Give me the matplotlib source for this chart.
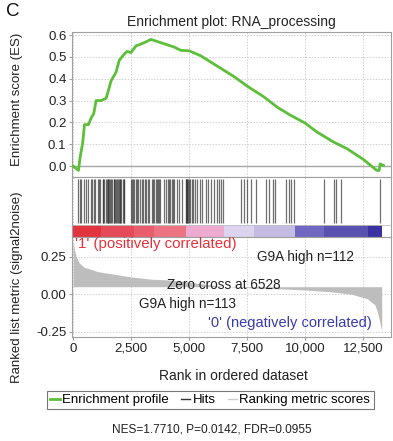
import matplotlib
matplotlib.use("Agg")
import matplotlib.pyplot as plt
from matplotlib.lines import Line2D

plt.rcParams['font.family'] = ['Liberation Sans', 'DejaVu Sans']

# ---------------- data ----------------
es_ranks = [0, 229, 300, 415, 487, 659, 773, 888, 988, 1203, 1418, 1530, 1632, 1847, 1990,
            2205, 2320, 2491, 2706, 3064, 3350, 3637, 3924, 4353, 4640, 4998, 5500, 6072,
            6931, 7504, 8220, 8792, 9365, 9981, 10511, 11227, 11800, 12516, 13089, 13189,
            13232, 13375]
es_values = [0.0, -0.02, 0.04, 0.11, 0.19, 0.19, 0.22, 0.24, 0.30, 0.30, 0.31, 0.35, 0.39,
             0.43, 0.485, 0.513, 0.525, 0.52, 0.55, 0.565, 0.58, 0.57, 0.56, 0.545, 0.53,
             0.528, 0.505, 0.467, 0.41, 0.366, 0.317, 0.27, 0.233, 0.198, 0.156, 0.11, 0.08,
             0.03, -0.02, -0.02, 0.01, 0.003]

hit_ranks = [229, 310, 344, 487, 560, 659, 773, 820, 888, 940, 1060, 1110, 1174, 1274, 1300,
             1350, 1418, 1450, 1489, 1520, 1561, 1600, 1632, 1680, 1747, 1780, 1800, 1847,
             1880, 1919, 1960, 2000, 2033, 2080, 2134, 2170, 2205, 2491, 2540, 2563, 2635,
             2706, 2760, 2807, 2893, 2950, 2993, 3093, 3150, 3208, 3279, 3380, 3420, 3494,
             3550, 3600, 3637, 3680, 3752, 3924, 3995, 4067, 4139, 4180, 4239, 4300, 4353,
             4468, 4568, 4711, 4855, 4880, 4897, 4920, 4955, 5000, 5041, 5141, 5180, 5241,
             5356, 5470, 5570, 5714, 5814, 5929, 6072, 6186, 6286, 6387, 6473, 7217, 7360,
             7475, 7647, 7862, 8291, 8434, 8621, 8692, 9193, 9308, 9394, 9537, 10797, 11227,
             11341, 11542, 13232]

metric_ranks = [0, 50, 130, 250, 470, 1070, 2500, 3350, 4080, 5000, 6528, 8000, 9070,
                10000, 11200, 12000, 12670, 13000, 13100, 13200, 13250, 13300]
metric_values = [0.37, 0.30, 0.25, 0.21, 0.18, 0.15, 0.115, 0.10, 0.095, 0.08, 0.05, 0.04,
                 0.035, 0.028, 0.015, 0.0, -0.03, -0.07, -0.11, -0.17, -0.21, -0.24]
metric_baseline = 0.05

band_edges = [0, 1203, 2635, 3494, 4855, 6501, 7790, 9580, 10797, 12730, 13303]
band_colors = ['#e2343f', '#e44a58', '#e85e6c', '#ec7482', '#eeaad0', '#dcd4ee',
               '#c4bce2', '#7068c0', '#5a52b0', '#3a32a2']

x_ticks = [0, 2500, 5000, 7500, 10000, 12500]
x_tick_labels = ['0', '2,500', '5,000', '7,500', '10,000', '12,500']
es_ticks = [0.0, 0.1, 0.2, 0.3, 0.4, 0.5, 0.6]
metric_ticks = [-0.25, 0.0, 0.25]

# ---------------- figure ----------------
W, H = 393, 441
fig = plt.figure(figsize=(W / 100, H / 100), dpi=100)

def ax_rect(left, top, right, bottom):
    return [left / W, 1 - bottom / H, (right - left) / W, (bottom - top) / H]

xlim = (-50, 13700)
spine_c = '#a0a0a0'
grid_kw = dict(color='#d0d0d0', linestyle=(0, (1.5, 1.5)), linewidth=0.7)

ax1 = fig.add_axes(ax_rect(72, 32, 391, 177))
ax2 = fig.add_axes(ax_rect(72, 177, 391, 237))
ax3 = fig.add_axes(ax_rect(72, 237, 391, 337))

for ax in (ax1, ax2, ax3):
    ax.set_xlim(*xlim)
    for s in ax.spines.values():
        s.set_color(spine_c)
        s.set_linewidth(0.8)
    ax.set_xticks(x_ticks)
    ax.tick_params(length=2, color=spine_c, labelsize=9.5, pad=2, labelcolor='#222222')
    ax.set_axisbelow(True)

# ES panel
ax1.set_ylim(-0.05, 0.614)
ax1.set_yticks(es_ticks)
ax1.set_yticklabels(['0.0', '0.1', '0.2', '0.3', '0.4', '0.5', '0.6'])
ax1.set_xticklabels([])
ax1.tick_params(axis='x', length=0)
ax1.grid(True, **grid_kw)
ax1.axhline(0, color='#a8a8a8', linewidth=1.0, zorder=1)
ax1.plot(es_ranks, es_values, color='#5cbf3a', linewidth=2.0, zorder=3)
ax1.set_title('Enrichment plot: RNA_processing', fontsize=10, pad=4, color='#222222')

# Hits panel
ax2.set_ylim(0, 1)
ax2.set_yticks([])
ax2.set_xticklabels([])
ax2.tick_params(axis='x', length=0)
ax2.grid(True, axis='x', **grid_kw)
ax2.vlines(hit_ranks, 0.233, 0.967, color='#303030', linewidth=0.9, alpha=0.7)
for i, c in enumerate(band_colors):
    ax2.axvspan(band_edges[i], band_edges[i + 1], ymin=0, ymax=0.2, color=c, linewidth=0)
ax2.axhline(0.2, color='#c0c0c0', linewidth=0.6)

# Metric panel
ax3.set_ylim(-0.285, 0.381)
ax3.set_yticks(metric_ticks)
ax3.set_yticklabels(['-0.25', '0.00', '0.25'])
ax3.set_xticklabels(x_tick_labels)
ax3.grid(True, **grid_kw)
ax3.fill_between(metric_ranks, metric_values, metric_baseline, color='#bdbdbd',
                 linewidth=0, zorder=2)
ax3.text(60, 0.335, "'1' (positively correlated)", color='#e8303a', fontsize=10.8,
         ha='left', va='center')
ax3.text(10009, 0.248, 'G9A high n=112', color='#222222', fontsize=9.8,
         ha='center', va='center')
ax3.text(6486, 0.058, 'Zero cross at 6528', color='#222222', fontsize=9.8,
         ha='center', va='center')
ax3.text(4940, -0.065, 'G9A high n=113', color='#222222', fontsize=9.8,
         ha='center', va='center')
ax3.text(12887, -0.19, "'0' (negatively correlated)", color='#3a3ab0', fontsize=10.5,
         ha='right', va='center')

# labels
fig.text(17 / W, 1 - 99 / H, 'Enrichment score (ES)', rotation=90, ha='center',
         va='center', fontsize=9.5, color='#222222')
fig.text(17 / W, 1 - 287 / H, 'Ranked list metric (signal2noise)', rotation=90,
         ha='center', va='center', fontsize=9.5, color='#222222')
fig.text(233 / W, 1 - 376 / H, 'Rank in ordered dataset', ha='center', va='center',
         fontsize=10, color='#222222')
fig.text(6 / W, 1 - 12 / H, 'C', ha='left', va='center', fontsize=13.5, color='#111111')

handles = [Line2D([], [], color='#5cbf3a', linewidth=2),
           Line2D([], [], color='#333333', linewidth=1),
           Line2D([], [], color='#cccccc', linewidth=1)]
leg = fig.legend(handles, ['Enrichment profile', 'Hits', 'Ranking metric scores'],
                 loc='center left', bbox_to_anchor=(47 / W, 1 - 400 / H), ncol=3,
                 fontsize=9.5, frameon=True, fancybox=False, handlelength=0.7,
                 handletextpad=0.2, columnspacing=0.9, borderpad=0.25,
                 borderaxespad=0)
leg.get_frame().set_edgecolor('#555555')
leg.get_frame().set_linewidth(0.8)

fig.text(212 / W, 1 - 430 / H, 'NES=1.7710, P=0.0142, FDR=0.0955', ha='center',
         va='center', fontsize=8.6, color='#222222')

fig.savefig('out.png', dpi=100)
